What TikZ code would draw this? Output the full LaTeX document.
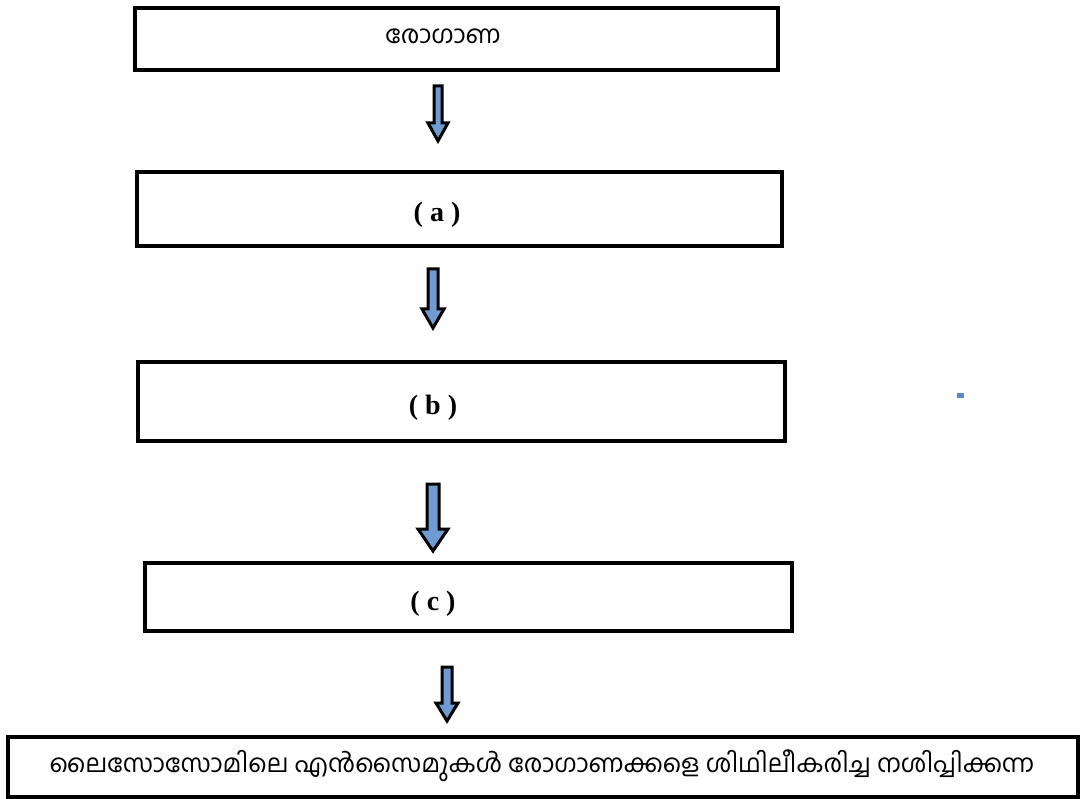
\documentclass[tikz,border=0pt]{standalone}
\usepackage{fontspec}
\setmainfont{Liberation Serif}
\newfontfamily\mlfont[Script=Malayalam]{Hind Kochi}
\newcommand\stagelabelfont{\bfseries\fontsize{28}{32}\selectfont\spaceskip=7pt plus 0pt minus 0pt\relax}
\begin{document}
\begin{tikzpicture}[x=1pt,y=-1pt,
  stage/.style={draw=black,line width=3.4pt,rectangle,inner sep=0pt,fill=white},
  mltext/.style={font=\mlfont\fontsize{25}{28}\selectfont,inner sep=0pt},
  labeltext/.style={font=\stagelabelfont,inner sep=0pt},
  blockarrow/.style={draw=black,line width=3pt,line join=miter,fill=arrowblue}]
\definecolor{arrowblue}{HTML}{6F9BD3}
\definecolor{dotblue}{HTML}{5B87C8}
\useasboundingbox (0,0) rectangle (1090,799);

% stage boxes
\node[stage,minimum width=643pt,minimum height=62pt] (start) at (456.5,39) {};
\node[stage,minimum width=645pt,minimum height=74pt] (boxa) at (459.5,209) {};
\node[stage,minimum width=647pt,minimum height=79pt] (boxb) at (461.5,401.5) {};
\node[stage,minimum width=647pt,minimum height=68pt] (boxc) at (468.5,597) {};
\node[stage,minimum width=1070pt,minimum height=60pt] (final) at (543,767) {};

% texts
\node[mltext] (starttxt) at (443,36) {രോഗാണ};
\node[labeltext] (atxt) at (437,215) {( a )};
\node[labeltext] (btxt) at (433,408) {( b )};
\node[labeltext] (ctxt) at (433,604) {( c )};
\node[mltext] (finaltxt) at (542,766) {ലൈസോസോമിലെ എൻസൈമുകൾ രോഗാണക്കളെ ശിഥിലീകരിച്ച നശിപ്പിക്കന്ന};

% block arrows: \blockdown{cx}{top}{bottom}{half shaft}{half head}{head length}
\newcommand\blockdown[6]{%
  \draw[blockarrow] (#1-#4,#2) -- (#1+#4,#2) -- (#1+#4,#3-#6) -- (#1+#5,#3-#6)
    -- (#1,#3) -- (#1-#5,#3-#6) -- (#1-#4,#3-#6) -- cycle;}
\blockdown{438}{86}{141}{4}{10}{18}
\blockdown{433}{269}{328}{5}{11}{19}
\blockdown{433}{484}{551}{6}{15}{22}
\blockdown{447}{667}{721}{5}{11}{18}

% small marker at the right
\fill[dotblue] (957,393) rectangle (964,398);
\end{tikzpicture}
\end{document}
